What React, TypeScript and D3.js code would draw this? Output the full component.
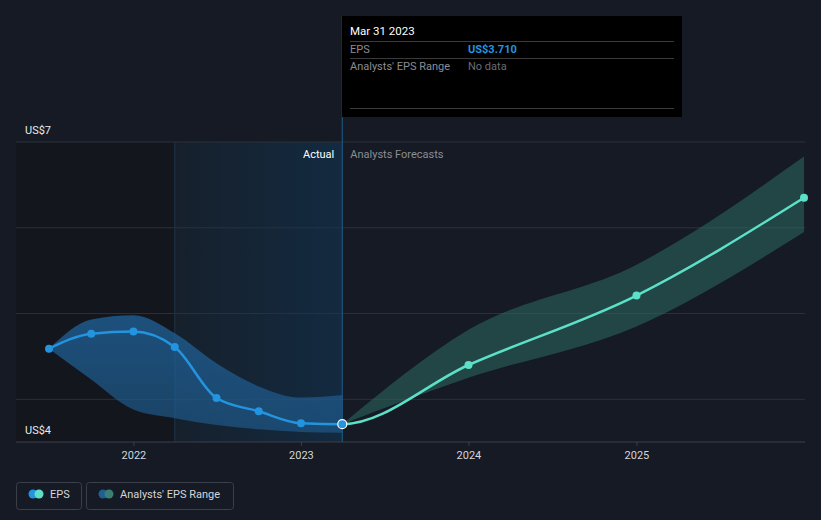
import React from "react";
import * as d3 from "d3";

const W = 821, H = 520;

const histDates = ["2021-06-30","2021-09-30","2021-12-31","2022-03-31","2022-06-30","2022-09-30","2022-12-31","2023-03-31"];
const histEps = [4.59, 4.765, 4.79, 4.61, 4.015, 3.86, 3.72, 3.71];
const histUpper = [4.59, 4.93, 4.98, 4.77, 4.42, 4.15, 4.02, 4.05];
const histLower = [4.59, 4.23, 3.88, 3.78, 3.70, 3.65, 3.62, 3.61];

const fcDates = ["2023-03-31","2023-12-31","2024-12-31","2025-12-31"];
const fcEps = [3.71, 4.4, 5.21, 6.35];
const fcUpper = [3.71, 4.81, 5.57, 6.83];
const fcLower = [3.71, 4.25, 4.85, 5.95];

const yTicks = [4, 5, 6, 7];
const xTickYears = [2022, 2023, 2024, 2025];

const parse = d3.timeParse("%Y-%m-%d");

export default function App() {
  const x = d3.scaleTime()
    .domain([parse("2021-06-30")!, parse("2025-12-31")!])
    .range([49, 804]);
  const y = d3.scaleLinear().domain([4, 7]).range([399.3, 142]);

  const left = 16, right = 805, bottom = 442, top = 142;
  const xNow = x(parse("2023-03-31")!);
  const xYearAgo = x(parse("2022-03-31")!);

  const hist = histDates.map((d, i) => ({ d: parse(d)!, v: histEps[i], hi: histUpper[i], lo: histLower[i] }));
  const fc = fcDates.map((d, i) => ({ d: parse(d)!, v: fcEps[i], hi: fcUpper[i], lo: fcLower[i] }));
  const all = [...hist, ...fc.slice(1)];

  const line = d3.line<any>().x(p => x(p.d)).y(p => y(p.v)).curve(d3.curveMonotoneX);
  const area = d3.area<any>().x(p => x(p.d)).y0(p => y(p.lo)).y1(p => y(p.hi)).curve(d3.curveMonotoneX);

  const font = "Roboto, 'Noto Sans', sans-serif";
  const fullLine = line(all)!;

  return (
    <svg width={W} height={H} style={{ position: "absolute", left: 0, top: 0, fontFamily: font }}>
      <defs>
        <linearGradient id="hl" x1="0" x2="1" y1="0" y2="0">
          <stop offset="0" stopColor="#16202c" />
          <stop offset="1" stopColor="#132a40" />
        </linearGradient>
        <linearGradient id="histBand" x1="0" x2="0" y1="0" y2="1">
          <stop offset="0" stopColor="#1f5f94" stopOpacity={0.8} />
          <stop offset="1" stopColor="#1f5f94" stopOpacity={0.6} />
        </linearGradient>
        <clipPath id="clipPast">
          <rect x={0} y={0} width={xNow} height={H} />
        </clipPath>
        <clipPath id="clipFuture">
          <rect x={xNow} y={0} width={W - xNow} height={H} />
        </clipPath>
      </defs>
      <rect width={W} height={H} fill="#151a24" />
      <rect x={left} y={top} width={xYearAgo - left} height={bottom - top} fill="#13161d" />
      <rect x={xYearAgo} y={top} width={xNow - xYearAgo} height={bottom - top} fill="url(#hl)" />
      <line x1={xYearAgo} x2={xYearAgo} y1={top} y2={bottom} stroke="#1d3348" strokeWidth={1} />

      {yTicks.map(t => (
        <line key={t} x1={left} x2={right} y1={y(t)} y2={y(t)} stroke="#2c313b" strokeWidth={1} />
      ))}
      <text x={25} y={134} fill="#e8eaee" fontSize={11}>US$7</text>
      <text x={25} y={434} fill="#e8eaee" fontSize={11}>US$4</text>

      <path d={area(hist)!} fill="url(#histBand)" />
      <path d={area(fc)!} fill="#2e6b63" fillOpacity={0.55} />

      <line x1={xNow} x2={xNow} y1={16} y2={bottom} stroke="#1e5d8c" strokeWidth={1} />

      <path d={fullLine} fill="none" stroke="#2394df" strokeWidth={2.5} clipPath="url(#clipPast)" />
      <path d={fullLine} fill="none" stroke="#5de0c8" strokeWidth={2.5} clipPath="url(#clipFuture)" />
      {hist.slice(0, -1).map((p, i) => (
        <circle key={i} cx={x(p.d)} cy={y(p.v)} r={4} fill="#2394df" />
      ))}
      {fc.slice(1).map((p, i) => (
        <circle key={i} cx={x(p.d)} cy={y(p.v)} r={4} fill="#5de0c8" />
      ))}
      <circle cx={xNow} cy={y(histEps[histEps.length - 1])} r={4.5} fill="#2394df" stroke="#ffffff" strokeWidth={1.2} />

      <line x1={left} x2={right} y1={bottom} y2={bottom} stroke="#3a3f49" strokeWidth={1} />
      {xTickYears.map(yr => {
        const xx = x(new Date(yr, 0, 1));
        return (
          <g key={yr}>
            <line x1={xx} x2={xx} y1={bottom} y2={bottom + 4} stroke="#3a3f49" />
            <text x={xx} y={459} textAnchor="middle" fill="#d4d6da" fontSize={11}>{yr}</text>
          </g>
        );
      })}

      <text x={xNow - 8} y={158} textAnchor="end" fill="#ffffff" fontSize={11}>Actual</text>
      <text x={xNow + 8} y={158} fill="#8a8d94" fontSize={11}>Analysts Forecasts</text>

      <rect x={342} y={16} width={340} height={101} fill="#000000" />
      <text x={350} y={35} fill="#ffffff" fontSize={11.5}>Mar 31 2023</text>
      <line x1={350} x2={674} y1={41.5} y2={41.5} stroke="#3a3a3a" />
      <text x={350} y={53} fill="#8a8d94" fontSize={11}>EPS</text>
      <text x={468} y={53} fill="#2394df" fontSize={11} fontWeight="bold">US$3.710</text>
      <line x1={350} x2={674} y1={58.5} y2={58.5} stroke="#3a3a3a" />
      <text x={350} y={70} fill="#8a8d94" fontSize={11}>Analysts' EPS Range</text>
      <text x={468} y={70} fill="#6a6d74" fontSize={11}>No data</text>
      <line x1={350} x2={674} y1={108.5} y2={108.5} stroke="#3a3a3a" />

      <rect x={16.5} y={482.5} width={65} height={27} rx={3} fill="none" stroke="#3a3f4a" />
      <circle cx={33} cy={494} r={4.5} fill="#2394df" />
      <circle cx={39} cy={494} r={4.5} fill="#5de0c8" />
      <text x={50} y={498} fill="#d4d6da" fontSize={11}>EPS</text>

      <rect x={86.5} y={482.5} width={147} height={27} rx={3} fill="none" stroke="#3a3f4a" />
      <circle cx={103} cy={494} r={4.5} fill="#1f5f94" />
      <circle cx={109} cy={494} r={4.5} fill="#3b7f74" />
      <text x={120} y={498} fill="#d4d6da" fontSize={11}>Analysts' EPS Range</text>
    </svg>
  );
}
